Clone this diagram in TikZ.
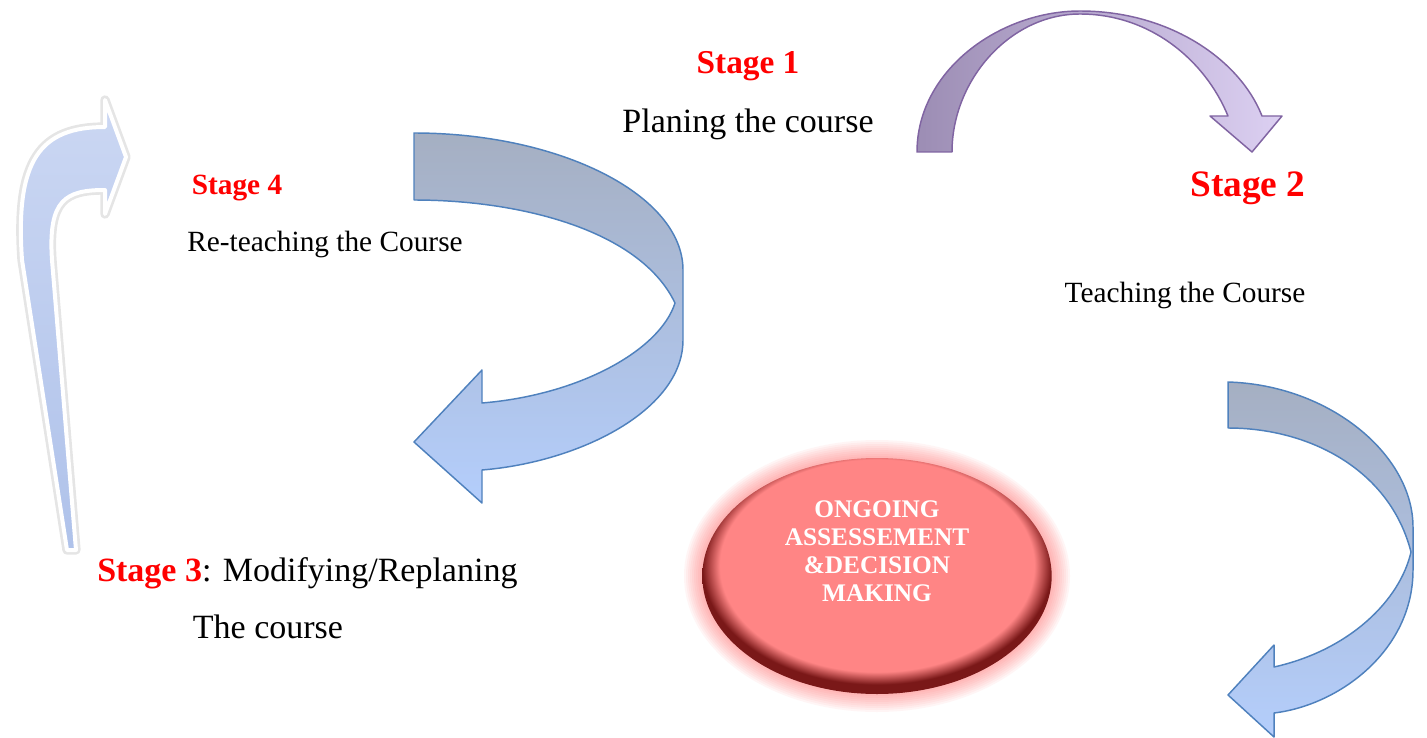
\documentclass[tikz,border=0pt]{standalone}
\usepackage{fontspec}
\setmainfont{Liberation Serif}
\usetikzlibrary{shapes.geometric}
\definecolor{stagered}{HTML}{FF0000}
\definecolor{ribbonblue}{HTML}{4F81BD}
\definecolor{ribbongrey}{HTML}{A5AFC2}
\definecolor{ribbonlight}{HTML}{B4CEFC}
\definecolor{arcpurple}{HTML}{8064A2}
\definecolor{arcdark}{HTML}{9C8DB4}
\definecolor{arclight}{HTML}{DCD0F2}
\definecolor{ovalpink}{HTML}{FF8585}
\definecolor{ovaldark}{HTML}{7A1818}
\definecolor{bentblue}{HTML}{CBD7F3}
\definecolor{bentdeep}{HTML}{AFC2EA}
\pgfdeclareradialshading{ovalshade}{\pgfpoint{0bp}{4bp}}{color(0bp)=(ovalpink); color(22.5bp)=(ovalpink); color(25bp)=(ovaldark); color(50bp)=(ovaldark)}
\tikzset{
    stagelabel/.style={font=\bfseries\fontsize{25}{30}\selectfont, text=stagered, anchor=base},
    stagetext/.style={font=\fontsize{25.5}{30}\selectfont, anchor=base},
    smalltext/.style={font=\fontsize{22}{26}\selectfont, anchor=base},
    ribbon/.style={draw=ribbonblue, line width=1.1pt, line join=round, top color=ribbongrey, bottom color=ribbonlight},
    arcarrow/.style={draw=arcpurple, line width=1.1pt, line join=round, left color=arcdark, right color=arclight},
    bentarrow/.style={draw=white, line width=3pt, line join=round, top color=bentblue, bottom color=bentdeep},
    oval/.style={ellipse, shading=ovalshade, minimum width=262pt, minimum height=177pt, text=white, align=center, font=\bfseries\fontsize{19}{21}\selectfont}
}

\begin{document}
\begin{tikzpicture}[x=0.75pt, y=-0.75pt]
\useasboundingbox (0,0) rectangle (1427,738);

\draw[line width=7pt, black!10, line join=round] (67,550) -- (22,260) .. controls (15,160) and (40,127) .. (105,127) -- (105,100) -- (126,157) -- (105,214) -- (105,190) .. controls (65,190) and (48,200) .. (52,260) -- (76,550) -- cycle;
\path[bentarrow] (67,550) -- (22,260) .. controls (15,160) and (40,127) .. (105,127) -- (105,100) -- (126,157) -- (105,214) -- (105,190) .. controls (65,190) and (48,200) .. (52,260) -- (76,550) -- cycle;

\path[arcarrow] (917,152) .. controls (917,70) and (1000,11) .. (1080,11) .. controls (1170,11) and (1240,60) .. (1262,116) -- (1282,116) -- (1252,152) -- (1210,116) -- (1228,116) .. controls (1205,60) and (1150,14) .. (1080,14) .. controls (1010,14) and (952,80) .. (952,152) -- cycle;

\path[ribbon] (414,133) .. controls (560,133) and (683,195) .. (683,270) -- (683,340) .. controls (683,410) and (580,462) .. (482,470) -- (482,503) -- (414,442) -- (482,370) -- (482,403) .. controls (580,395) and (660,350) .. (675,303) .. controls (640,230) and (520,200) .. (414,200) -- cycle;

\path[ribbon] (1228,382) .. controls (1330,385) and (1413,455) .. (1413,527) -- (1413,570) .. controls (1413,650) and (1340,705) .. (1274,713) -- (1274,737) -- (1228,695) -- (1274,645) -- (1274,667) .. controls (1350,650) and (1400,600) .. (1411,552) .. controls (1390,470) and (1310,428) .. (1228,428) -- cycle;

\foreach \r in {2,4,...,18}
  \fill[red!75, opacity=0.05] (877,576) ellipse [x radius={131.25pt+\r*0.75pt}, y radius={88.5pt+\r*0.75pt}];
\node[oval] (assess) at (877,576) {};
\node[font=\bfseries\fontsize{19}{21}\selectfont, text=white, align=center] (assesstext) at (877,551) {ONGOING\\ASSESSEMENT\\\&DECISION\\MAKING};

\node[stagelabel] (s1) at (748,74) {Stage 1};
\node[stagetext] (plan) at (748,133) {Planing the course};
\node[stagelabel, font=\bfseries\fontsize{28}{32}\selectfont] (s2) at (1248,196) {Stage 2};
\node[smalltext] (teach) at (1185,302) {Teaching the Course};
\node[stagelabel, font=\bfseries\fontsize{22}{26}\selectfont] (s4) at (237,195) {Stage 4};
\node[smalltext] (reteach) at (325,251) {Re-teaching the Course};
\node[stagetext, anchor=base west, inner sep=0pt] (s3) at (97,581) {\textcolor{stagered}{\bfseries Stage 3}: Modifying/Replaning};
\node[stagetext] (replan) at (268,638) {The course};

\end{tikzpicture}
\end{document}
